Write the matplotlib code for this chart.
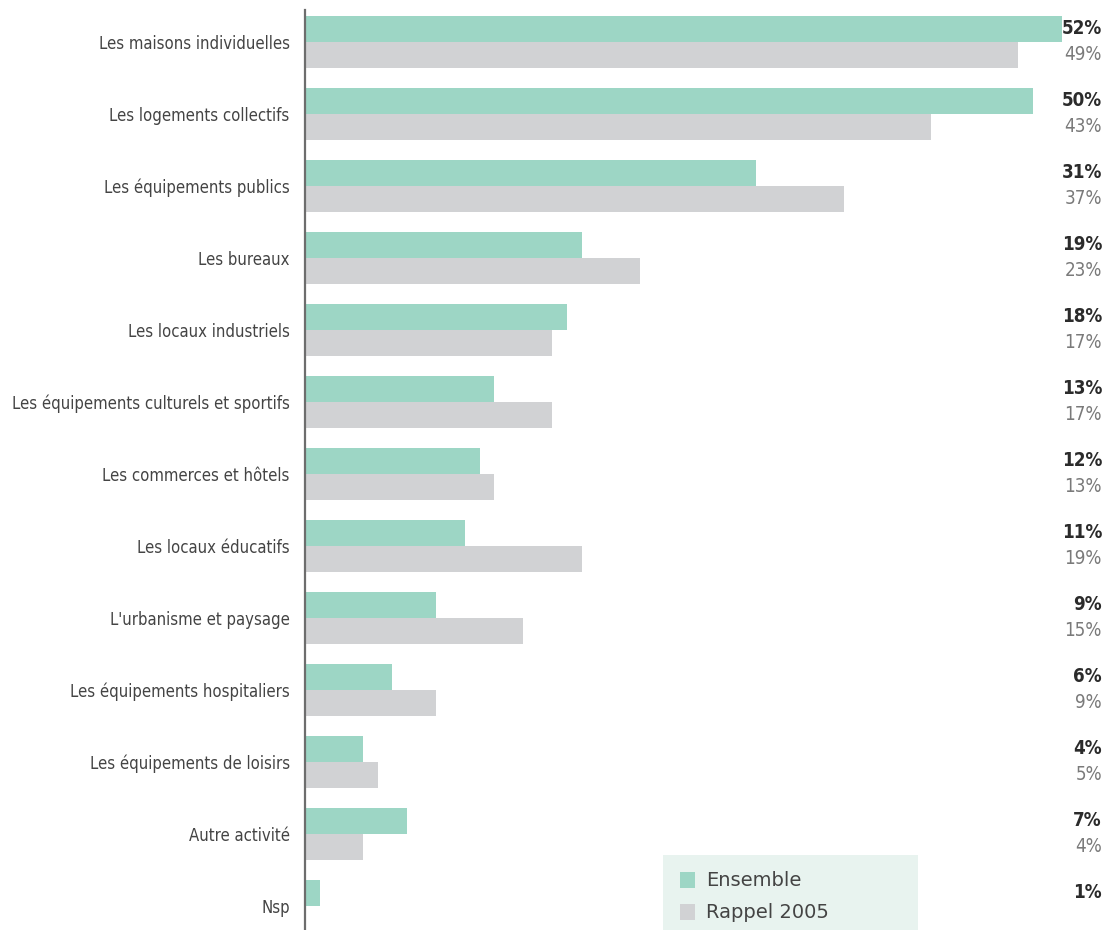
import numpy as np
import matplotlib.pyplot as plt
import matplotlib.transforms as mtrans
from matplotlib.patches import Rectangle

categories = [
    "Les maisons individuelles",
    "Les logements collectifs",
    "Les équipements publics",
    "Les bureaux",
    "Les locaux industriels",
    "Les équipements culturels et sportifs",
    "Les commerces et hôtels",
    "Les locaux éducatifs",
    "L'urbanisme et paysage",
    "Les équipements hospitaliers",
    "Les équipements de loisirs",
    "Autre activité",
    "Nsp",
]
ensemble = [52, 50, 31, 19, 18, 13, 12, 11, 9, 6, 4, 7, 1]
rappel_2005 = [49, 43, 37, 23, 17, 17, 13, 19, 15, 9, 5, 4, None]

GREEN = "#9dd6c5"
GREY = "#d1d2d4"
TXT = "#444444"
FONT = dict(family="DejaVu Sans", stretch="condensed")

fig = plt.figure(figsize=(11.05, 9.30), dpi=100)
ax = fig.add_axes([305 / 1105, 0, (1062 - 305) / 1105, 920 / 930])

y = np.arange(len(categories))
h = 26 / 72
ax.barh(y - h / 2, ensemble, height=h, color=GREEN, edgecolor="none")
r = [v if v is not None else 0 for v in rappel_2005]
ax.barh(y + h / 2, r, height=h, color=GREY, edgecolor="none")

ax.set_xlim(0, 52)
ax.set_ylim(888 / 72, -32 / 72)

for s in ["top", "right", "bottom"]:
    ax.spines[s].set_visible(False)
ax.spines["left"].set_color("#6d6d6d")
ax.spines["left"].set_linewidth(1.6)
ax.set_xticks([])
ax.set_yticks(y)
ax.set_yticklabels(categories, fontsize=12, color=TXT, **FONT)
ax.tick_params(axis="y", length=0, pad=11)

# value labels in the right margin, x in figure coords
tr = mtrans.blended_transform_factory(fig.transFigure, ax.transData)
for i in range(len(categories)):
    ax.text(1102 / 1105, i - h / 2, f"{ensemble[i]}%", transform=tr,
            ha="right", va="center", fontsize=13.5, fontweight="bold", color="#2b2b2b", **FONT)
    if rappel_2005[i] is not None:
        ax.text(1102 / 1105, i + h / 2, f"{rappel_2005[i]}%", transform=tr,
                ha="right", va="center", fontsize=13.5, color="#7a7a7a", **FONT)

# legend box
fig.patches.append(Rectangle((663 / 1105, 0), (918 - 663) / 1105, 75 / 930,
                             transform=fig.transFigure, facecolor="#e8f3ef", edgecolor="none"))
for k, (lab, col) in enumerate([("Ensemble", GREEN), ("Rappel 2005", GREY)]):
    yc = 1 - (880 + 32 * k) / 930
    fig.patches.append(Rectangle((680 / 1105, yc - 8 / 930), 15 / 1105, 16 / 930,
                                 transform=fig.transFigure, facecolor=col, edgecolor="none"))
    fig.text(706 / 1105, yc, lab, ha="left", va="center", fontsize=14, color=TXT,
             family="DejaVu Sans")

fig.savefig("out.png", dpi=100)
